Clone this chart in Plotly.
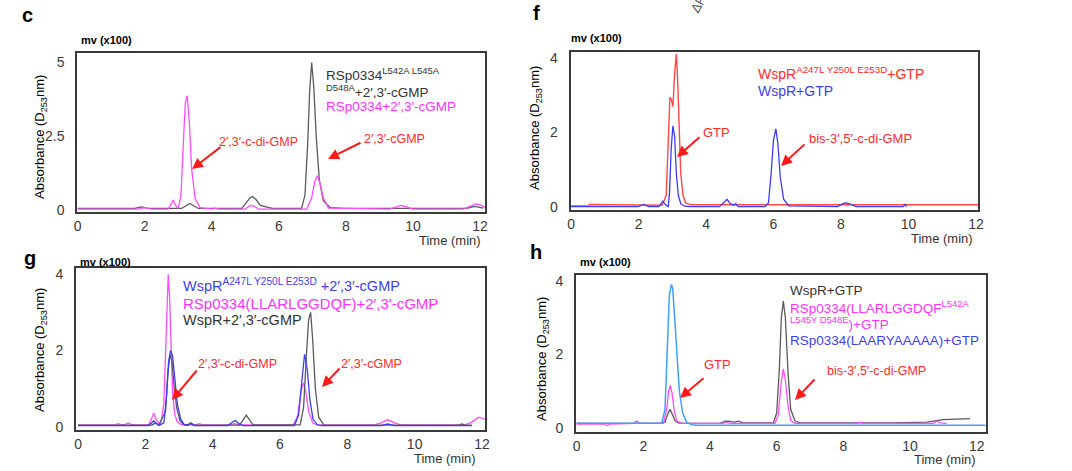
import plotly.graph_objects as go

W, H = 1072, 471

# ---------------- data (time in min, absorbance in mv x100) ----------------
x_ticks = [0, 2, 4, 6, 8, 10, 12]
c_y_ticks = [0, 2.5, 5]
c_y_labels = ["0", "2.5", "5"]
fgh_y_ticks = [0, 2, 4]
fgh_y_labels = ["0", "2", "4"]

# panel c
c_gray_t = [0, 1.7, 1.9, 2.1, 3.1, 3.25, 3.35, 3.45, 3.6, 4.9, 5.05, 5.15, 5.22, 5.32, 5.45, 5.6, 5.8,
            6.68, 6.78, 6.86, 6.92, 6.98, 7.04, 7.12, 7.21, 7.33, 7.53, 8.0, 11.6, 11.85, 12.1]
c_gray_v = [0.05, 0.05, 0.1, 0.05, 0.05, 0.15, 0.22, 0.15, 0.05, 0.05, 0.25, 0.42, 0.45, 0.35, 0.15, 0.1, 0.05,
            0.05, 0.5, 2.2, 4.0, 4.97, 4.2, 2.4, 1.0, 0.3, 0.08, 0.05, 0.05, 0.12, 0.06]
c_pink_t = [0, 1.8, 2.0, 2.2, 2.7, 2.8, 2.85, 2.92, 3.0, 3.08, 3.15, 3.21, 3.27, 3.33, 3.4, 3.5, 3.65,
            4.0, 4.1, 4.2, 5.0, 5.15, 5.25, 5.4, 6.83, 6.98, 7.07, 7.15, 7.23, 7.33, 7.48,
            9.3, 9.5, 9.65, 9.8, 10.0, 11.5, 11.7, 11.88, 12.05, 12.15]
c_pink_v = [0.03, 0.03, 0.08, 0.03, 0.03, 0.2, 0.33, 0.15, 0.05, 0.5, 2.2, 3.6, 3.85, 3.0, 1.4, 0.4, 0.08,
            0.03, 0.06, 0.03, 0.03, 0.15, 0.13, 0.03, 0.03, 0.4, 0.95, 1.15, 0.9, 0.4, 0.06,
            0.03, 0.1, 0.15, 0.1, 0.03, 0.03, 0.12, 0.2, 0.15, 0.08]

# panel f
f_red_t = [0, 0.5, 0.55, 1.0, 1.05, 2.7, 2.82, 2.88, 2.93, 2.97, 3.02, 3.07, 3.12, 3.16, 3.2, 3.25,
           3.32, 3.4, 3.55, 4.0, 11.0, 11.05, 12.06]
f_red_v = [0.02, 0.02, 0.06, 0.06, 0.04, 0.04, 0.3, 1.8, 2.95, 2.9, 2.7, 3.6, 4.12, 3.4, 2.0, 0.9,
           0.3, 0.1, 0.05, 0.05, 0.06, 0.04, 0.05]
f_blue_t = [0, 2.0, 2.15, 2.3, 2.6, 2.72, 2.8, 2.88, 2.92, 2.97, 3.02, 3.07, 3.12, 3.18, 3.25, 3.35, 3.5,
            4.4, 4.55, 4.62, 4.72, 4.82, 4.88, 4.95, 5.75, 5.85, 5.93, 6.0, 6.07, 6.13, 6.2, 6.3, 6.45,
            7.9, 8.05, 8.15, 8.3, 8.45, 9.85, 9.9, 9.95]
f_blue_v = [0.0, 0.0, 0.06, 0.0, 0.0, 0.15, 0.05, 0.0, 0.4, 1.6, 2.18, 1.9, 0.9, 0.3, 0.08, 0.02, 0.0,
            0.0, 0.13, 0.2, 0.08, 0.04, 0.08, 0.0, 0.0, 0.1, 0.9, 1.8, 2.1, 1.7, 0.8, 0.2, 0.02,
            0.0, 0.08, 0.1, 0.06, 0.0, 0.0, 0.06, 0.0]

# panel g
g_pink_t = [0, 1.1, 1.2, 1.3, 1.4, 1.5, 1.6, 2.1, 2.2, 2.25, 2.32, 2.45, 2.55, 2.62, 2.68, 2.72, 2.76,
            2.81, 2.87, 2.95, 3.05, 3.2, 3.5, 3.6, 3.7, 4.5, 4.65, 4.8, 6.4, 6.53, 6.63, 6.7, 6.77,
            6.85, 6.97, 7.1, 8.8, 9.0, 9.2, 9.4, 9.6, 11.5, 11.7, 11.9, 12.09]
g_pink_v = [0.05, 0.05, 0.08, 0.05, 0.06, 0.1, 0.05, 0.05, 0.25, 0.35, 0.2, 0.05, 0.6, 2.5, 4.0, 3.4, 2.0,
            0.9, 0.35, 0.12, 0.06, 0.05, 0.05, 0.08, 0.05, 0.05, 0.08, 0.05, 0.05, 0.3, 0.95, 1.15, 0.9,
            0.4, 0.1, 0.05, 0.05, 0.1, 0.18, 0.1, 0.05, 0.05, 0.12, 0.25, 0.2]
g_gray_t = [0, 2.2, 2.3, 2.4, 2.6, 2.67, 2.73, 2.79, 2.85, 2.93, 3.03, 3.15, 3.25, 3.35, 3.45, 4.8, 4.92,
            5.0, 5.08, 5.2, 6.6, 6.7, 6.78, 6.85, 6.91, 6.97, 7.05, 7.15, 7.3, 11.3, 11.4, 11.5, 11.7]
g_gray_v = [0.04, 0.04, 0.1, 0.04, 0.4, 1.4, 1.9, 1.7, 1.1, 0.5, 0.15, 0.05, 0.05, 0.1, 0.04, 0.04, 0.2,
            0.3, 0.2, 0.05, 0.05, 0.5, 1.8, 2.8, 3.0, 2.3, 1.0, 0.25, 0.05, 0.04, 0.07, 0.04, 0.04]
g_blue_t = [0, 2.1, 2.25, 2.4, 2.55, 2.63, 2.69, 2.75, 2.81, 2.88, 2.95, 3.05, 3.15, 3.25, 3.35, 3.45, 4.45,
            4.6, 4.68, 4.78, 4.9, 6.43, 6.55, 6.65, 6.73, 6.81, 6.89, 6.98, 7.11, 7.23, 9.0, 9.2, 9.4, 11.7]
g_blue_v = [0.03, 0.03, 0.15, 0.03, 0.1, 0.8, 1.7, 2.0, 1.85, 1.2, 0.6, 0.2, 0.06, 0.03, 0.08, 0.03, 0.03,
            0.13, 0.16, 0.08, 0.03, 0.03, 0.3, 1.2, 1.9, 1.5, 0.7, 0.2, 0.05, 0.03, 0.03, 0.07, 0.03, 0.03]

# panel h
h_gray_t = [0, 2.5, 2.65, 2.72, 2.8, 2.88, 2.96, 3.05, 3.2, 4.3, 4.45, 4.6, 4.75, 4.85, 5.0, 5.9, 6.0,
            6.08, 6.14, 6.2, 6.26, 6.34, 6.42, 6.55, 6.7, 9.5, 10.5, 11.0, 11.8]
h_gray_v = [0.12, 0.12, 0.15, 0.35, 0.5, 0.35, 0.18, 0.13, 0.12, 0.12, 0.18, 0.17, 0.15, 0.18, 0.13, 0.13, 0.4,
            1.6, 3.0, 3.45, 3.0, 1.5, 0.5, 0.18, 0.13, 0.13, 0.15, 0.22, 0.25]
h_pink_t = [0, 0.8, 0.9, 1.0, 1.7, 1.8, 1.9, 2.6, 2.7, 2.76, 2.81, 2.86, 2.92, 3.0, 3.15, 4.4, 4.5, 4.6,
            5.95, 6.05, 6.13, 6.2, 6.26, 6.34, 6.42, 6.55, 8.4, 8.5, 8.6, 10.7, 10.8, 10.9, 11.1]
h_pink_v = [0.1, 0.1, 0.06, 0.1, 0.12, 0.18, 0.12, 0.12, 0.5, 1.0, 1.15, 0.95, 0.5, 0.18, 0.12, 0.12, 0.15, 0.12,
            0.12, 0.35, 1.2, 1.6, 1.3, 0.6, 0.2, 0.12, 0.12, 0.15, 0.12, 0.12, 0.18, 0.13, 0.12]
h_lblue_t = [0, 2.55, 2.65, 2.72, 2.78, 2.84, 2.88, 2.94, 3.0, 3.08, 3.18, 3.3, 3.45, 3.6, 12.27]
h_lblue_v = [0.12, 0.12, 0.5, 2.2, 3.6, 3.9, 3.8, 3.0, 2.0, 1.0, 0.4, 0.15, 0.08, 0.07, 0.07]

# ---------------- styling ----------------
FONT = "Arial, Liberation Sans, sans-serif"
GRAY, PINK, RED, BLUE, LBLUE = "#5a5a5a", "#ff4dff", "#ff4848", "#3c3cf5", "#3fa0ff"
T_GRAY, T_PINK, T_RED, T_BLUE = "#333333", "#ff33ff", "#ff2a2a", "#3f3fe6"


def px(xp):
    return xp / W


def py(yp):
    return 1 - yp / H


fig = go.Figure()


def line(t, v, color, ax, width=1.3):
    fig.add_trace(go.Scatter(x=t, y=v, mode="lines", line=dict(color=color, width=width),
                             xaxis="x" + ax, yaxis="y" + ax, showlegend=False, hoverinfo="skip"))


line(c_gray_t, c_gray_v, GRAY, "")
line(c_pink_t, c_pink_v, PINK, "")
line(f_red_t, f_red_v, RED, "2", 1.4)
line(f_blue_t, f_blue_v, BLUE, "2")
line(g_pink_t, g_pink_v, PINK, "3")
line(g_gray_t, g_gray_v, GRAY, "3")
line(g_blue_t, g_blue_v, BLUE, "3")
line(h_gray_t, h_gray_v, GRAY, "4")
line(h_pink_t, h_pink_v, PINK, "4")
line(h_lblue_t, h_lblue_v, LBLUE, "4", 1.5)

panels = {
    # name: (xdom px, ydom px (bottom, top), xrange, yrange, yticks, ylabels)
    "": ((77.3, 485), (211.7, 52.7), [-0.01, 12.15], [-0.06, 5.30], c_y_ticks, c_y_labels),
    "2": ((570.7, 978), (210, 51.7), [-0.01, 12.06], [-0.09, 4.18], fgh_y_ticks, fgh_y_labels),
    "3": ((76, 485), (430, 267.7), [-0.06, 12.09], [-0.087, 4.17], fgh_y_ticks, fgh_y_labels),
    "4": ((576, 985.7), (432, 275), [-0.02, 12.27], [-0.117, 4.16], fgh_y_ticks, fgh_y_labels),
}

layout = {}
for k, (xd, yd, xr, yr, yt, yl) in panels.items():
    common = dict(showline=True, mirror=True, linecolor="#3a3a3a", linewidth=2, ticks="",
                  showgrid=False, zeroline=False, automargin=False, fixedrange=True,
                  tickfont=dict(family=FONT, size=14, color="#3a3a3a"))
    layout["xaxis" + k] = dict(domain=[px(xd[0]), px(xd[1])], range=xr, tickvals=x_ticks,
                               anchor="y" + k, **common)
    layout["yaxis" + k] = dict(domain=[py(yd[0]), py(yd[1])], range=yr, tickvals=yt, ticktext=yl,
                               anchor="x" + k, ticklabelstandoff=8, **common)
fig.update_layout(**layout)

ann = []


def text(s, x, y, color="#000", size=14, xanchor="left", bold=False, angle=0):
    if bold:
        s = "<b>" + s + "</b>"
    ann.append(dict(text=s, x=px(x), y=py(y), xref="paper", yref="paper", showarrow=False,
                    xanchor=xanchor, yanchor="middle", textangle=angle,
                    font=dict(family=FONT, size=size, color=color)))


def arrow(x0, y0, x1, y1):
    ann.append(dict(text="", x=px(x1), y=py(y1), xref="paper", yref="paper", showarrow=True,
                    ax=x0 - x1, ay=y0 - y1, arrowhead=2, arrowsize=1.1, arrowwidth=2,
                    arrowcolor="#ff1a1a"))


# panel letters and unit labels
text("c", 27, 15, size=20, xanchor="center", bold=True)
text("f", 536, 13, size=20, xanchor="center", bold=True)
text("g", 30, 258, size=20, xanchor="center", bold=True)
text("h", 536, 252, size=20, xanchor="center", bold=True)
text("ΔR", 699, 4, color="#555", size=13, xanchor="center", angle=-60)
for (x, y) in [(79, 40), (569, 38), (78, 262), (578, 262)]:
    text("mv (x100)", x, y, size=11, bold=True)

# axis titles
ytitle = "Absorbance (D<sub>253</sub>nm)"
for (x, y) in [(41, 137), (536, 128), (40, 350), (542, 359)]:
    text(ytitle, x, y, size=13, xanchor="center", angle=-90)
for (x, y) in [(450, 240), (942, 238), (445, 458), (945, 459)]:
    text("Time (min)", x, y, size=13, color="#333", xanchor="center")

# panel c labels
text("RSp0334<sup>L542A L545A</sup>", 324, 74, T_GRAY, 13.5)
text("<sup>D548A</sup>+2′,3′-cGMP", 324, 91, T_GRAY, 13.5)
text("RSp0334+2′,3′-cGMP", 324, 107, T_PINK, 13.5)
text("2′,3′-c-di-GMP", 217, 142, T_RED, 12.5)
text("2′,3′-cGMP", 362, 139, T_RED, 12.5)
arrow(222, 146, 192, 169)
arrow(362, 142, 328, 159)

# panel f labels
text("WspR<sup>A247L Y250L E253D</sup>+GTP", 756, 73, T_RED, 14)
text("WspR+GTP", 756, 91, T_BLUE, 14)
text("GTP", 701, 133, T_RED, 13)
text("bis-3′,5′-c-di-GMP", 807, 139, T_RED, 13)
arrow(701, 136, 677, 157)
arrow(806, 143, 781, 166)

# panel g labels
text("WspR<sup>A247L Y250L E253D</sup> +2′,3′-cGMP", 181, 285, T_BLUE, 14.5)
text("RSp0334(LLARLGGDQF)+2′,3′-cGMP", 181, 303, T_PINK, 15)
text("WspR+2′,3′-cGMP", 181, 320, T_GRAY, 14.5)
text("2′,3′-c-di-GMP", 196, 364, T_RED, 12.5)
text("2′,3′-cGMP", 339, 364, T_RED, 12.5)
arrow(198, 369, 172, 400)
arrow(341, 367, 322, 387)

# panel h labels
text("WspR+GTP", 788, 290, T_GRAY, 13.5)
text("RSp0334(LLARLGGDQF<sup>L542A</sup>", 788, 307, T_PINK, 13.5)
text("<sup>L545Y D548E</sup>)+GTP", 788, 323, T_PINK, 13.5)
text("RSp0334(LAARYAAAAA)+GTP", 788, 340, T_BLUE, 13.5)
text("GTP", 702, 364, T_RED, 13)
text("bis-3′,5′-c-di-GMP", 825, 371, T_RED, 12.5)
arrow(705, 377, 680, 398)
arrow(816, 378, 795, 400)

fig.update_layout(width=W, height=H, margin=dict(l=0, r=0, t=0, b=0, autoexpand=False),
                  paper_bgcolor="white", plot_bgcolor="white", annotations=ann,
                  font=dict(family=FONT), hovermode=False, dragmode=False)
fig.write_html("out.html", config={"displayModeBar": False, "staticPlot": True},
               post_script="document.body.style.margin='0';document.body.style.overflow='hidden';")
